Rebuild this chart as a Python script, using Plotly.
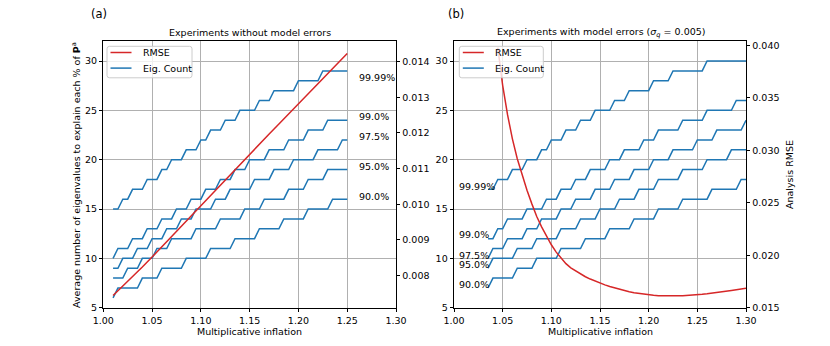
import plotly.graph_objects as go

# ---- data ----
# eigenvalue counts, panel (a): inflation grid 1.010 .. 1.250
x_eig_a = [1.010, 1.015, 1.020, 1.025, 1.030, 1.035, 1.040, 1.045, 1.050, 1.055,
           1.060, 1.065, 1.070, 1.075, 1.080, 1.085, 1.090, 1.095, 1.100, 1.105,
           1.110, 1.115, 1.120, 1.125, 1.130, 1.135, 1.140, 1.145, 1.150, 1.155,
           1.160, 1.165, 1.170, 1.175, 1.180, 1.185, 1.190, 1.195, 1.200, 1.205,
           1.210, 1.215, 1.220, 1.225, 1.230, 1.235, 1.240, 1.245, 1.250]
eig_a_9999 = [15, 15, 16, 16, 17, 17, 17, 18, 18, 18, 19, 19, 20, 20, 20, 21, 21, 21, 22, 22,
              23, 23, 23, 24, 24, 24, 25, 25, 25, 25, 26, 26, 26, 27, 27, 27, 27, 27, 28, 28,
              28, 28, 28, 29, 29, 29, 29, 29, 29]
eig_a_990 = [10, 11, 11, 11, 12, 12, 12, 13, 13, 13, 14, 14, 14, 15, 15, 15, 16, 16, 16, 17,
             17, 17, 18, 18, 18, 19, 19, 19, 20, 20, 20, 20, 21, 21, 21, 21, 22, 22, 22, 22,
             23, 23, 23, 23, 24, 24, 24, 24, 24]
eig_a_975 = [9, 9, 10, 10, 10, 11, 11, 11, 12, 12, 12, 13, 13, 13, 14, 14, 14, 15, 15, 15,
             15, 16, 16, 16, 17, 17, 17, 17, 17, 18, 18, 18, 18, 19, 19, 19, 19, 20, 20, 20,
             20, 20, 21, 21, 21, 21, 21, 22, 22]
eig_a_950 = [8, 8, 8, 9, 9, 9, 10, 10, 10, 11, 11, 11, 12, 12, 12, 12, 12, 13, 13, 13,
             13, 13, 14, 14, 14, 14, 14, 15, 15, 15, 15, 16, 16, 16, 16, 16, 17, 17, 17, 17,
             18, 18, 18, 18, 19, 19, 19, 19, 19]
eig_a_900 = [6, 7, 7, 7, 7, 7, 8, 8, 8, 8, 9, 9, 9, 9, 9, 10, 10, 10, 10, 10,
             11, 11, 11, 11, 11, 12, 12, 12, 12, 12, 13, 13, 13, 13, 13, 14, 14, 14, 14, 14,
             15, 15, 15, 15, 15, 16, 16, 16, 16]

# eigenvalue counts, panel (b): inflation grid 1.035 .. 1.300
x_eig_b = [1.035, 1.040, 1.045, 1.050, 1.055, 1.060, 1.065, 1.070, 1.075, 1.080,
           1.085, 1.090, 1.095, 1.100, 1.105, 1.110, 1.115, 1.120, 1.125, 1.130,
           1.135, 1.140, 1.145, 1.150, 1.155, 1.160, 1.165, 1.170, 1.175, 1.180,
           1.185, 1.190, 1.195, 1.200, 1.205, 1.210, 1.215, 1.220, 1.225, 1.230,
           1.235, 1.240, 1.245, 1.250, 1.255, 1.260, 1.265, 1.270, 1.275, 1.280,
           1.285, 1.290, 1.295, 1.300]
eig_b_9999 = [17, 17, 18, 18, 18, 19, 19, 19, 20, 20, 20, 21, 21, 22, 22, 22, 23, 23, 23, 24,
              24, 24, 25, 25, 25, 25, 26, 26, 26, 27, 27, 27, 27, 27, 28, 28, 28, 28, 29, 29,
              29, 29, 29, 29, 29, 30, 30, 30, 30, 30, 30, 30, 30, 30]
eig_b_990 = [12, 12, 13, 13, 14, 14, 14, 14, 15, 15, 15, 15, 16, 16, 16, 17, 17, 17, 18, 18,
             18, 19, 19, 19, 19, 20, 20, 20, 21, 21, 21, 21, 22, 22, 22, 23, 23, 23, 23, 23,
             24, 24, 24, 24, 24, 25, 25, 25, 25, 25, 25, 26, 26, 26]
eig_b_975 = [10, 11, 11, 11, 12, 12, 12, 12, 13, 13, 13, 14, 14, 14, 14, 15, 15, 15, 16, 16,
             16, 16, 17, 17, 17, 17, 18, 18, 18, 18, 19, 19, 19, 19, 20, 20, 20, 20, 21, 21,
             21, 21, 21, 22, 22, 22, 22, 23, 23, 23, 23, 23, 23, 24]
eig_b_950 = [9, 10, 10, 10, 10, 10, 11, 11, 11, 11, 12, 12, 12, 12, 12, 13, 13, 13, 13, 14,
             14, 14, 14, 15, 15, 15, 15, 16, 16, 16, 16, 17, 17, 17, 17, 18, 18, 18, 18, 18,
             19, 19, 19, 19, 19, 20, 20, 20, 20, 20, 21, 21, 21, 21]
eig_b_900 = [7, 8, 8, 8, 8, 8, 9, 9, 9, 9, 10, 10, 10, 10, 10, 11, 11, 11, 11, 11,
             12, 12, 12, 12, 12, 13, 13, 13, 13, 13, 14, 14, 14, 14, 14, 15, 15, 15, 15, 15,
             16, 16, 16, 16, 16, 16, 17, 17, 17, 17, 17, 17, 18, 18]

pct_labels = ["99.99%", "99.0%", "97.5%", "95.0%", "90.0%"]

# analysis RMSE
x_rmse_a = [1.01, 1.02, 1.03, 1.04, 1.05, 1.06, 1.07, 1.08, 1.09, 1.10, 1.11, 1.12, 1.13,
            1.14, 1.15, 1.16, 1.17, 1.18, 1.19, 1.20, 1.21, 1.22, 1.23, 1.24, 1.25]
rmse_a = [0.00744, 0.00770, 0.00797, 0.00824, 0.00852, 0.00880, 0.00909, 0.00938, 0.00967,
          0.00996, 0.01025, 0.01054, 0.01083, 0.01112, 0.01140, 0.01169, 0.01197, 0.01225,
          0.01253, 0.01281, 0.01310, 0.01338, 0.01366, 0.01395, 0.01423]
x_rmse_b = [1.045, 1.050, 1.055, 1.060, 1.065, 1.070, 1.075, 1.080, 1.085, 1.090,
            1.095, 1.100, 1.105, 1.110, 1.115, 1.120, 1.125, 1.130, 1.135, 1.140,
            1.145, 1.150, 1.155, 1.160, 1.165, 1.170, 1.175, 1.180, 1.185, 1.190,
            1.195, 1.200, 1.205, 1.210, 1.215, 1.220, 1.225, 1.230, 1.235, 1.240,
            1.245, 1.250, 1.255, 1.260, 1.265, 1.270, 1.275, 1.280, 1.285, 1.290,
            1.295, 1.300]
rmse_b = [0.0398, 0.0362, 0.0334, 0.0311, 0.0292, 0.0276, 0.0262, 0.0249, 0.0237, 0.0227,
          0.0218, 0.0210, 0.0203, 0.0197, 0.0192, 0.0188, 0.0185, 0.0182, 0.01795, 0.01773,
          0.01753, 0.01737, 0.01718, 0.01702, 0.01688, 0.01675, 0.01663, 0.01652, 0.01643, 0.01635,
          0.01628, 0.01622, 0.01618, 0.01615, 0.01613, 0.01612, 0.01612, 0.01613, 0.01615, 0.01617,
          0.01620, 0.01623, 0.01628, 0.01633, 0.01638, 0.01644, 0.01650, 0.01657, 0.01664, 0.01671,
          0.01678, 0.01685]

BLUE = "#1f77b4"
RED = "#d62728"
FONT = "DejaVu Sans"
FS = 9.5

# page body has an 8px margin, so the figure is drawn 8px in from the window corner
OFF = 8
W, H = 830 - OFF, 346 - OFF


def fx(px):
    return (px - OFF) / W


def fy(py):
    return 1 - (py - OFF) / H


fig = go.Figure()

series_a = [eig_a_9999, eig_a_990, eig_a_975, eig_a_950, eig_a_900]
series_b = [eig_b_9999, eig_b_990, eig_b_975, eig_b_950, eig_b_900]

for ys in series_a:
    fig.add_trace(go.Scatter(x=x_eig_a, y=ys, mode="lines", line=dict(color=BLUE, width=1.5),
                             name="Eig. Count", xaxis="x", yaxis="y", hoverinfo="skip"))
fig.add_trace(go.Scatter(x=x_rmse_a, y=rmse_a, mode="lines", line=dict(color=RED, width=1.5),
                         name="RMSE", xaxis="x", yaxis="y2"))

for ys in series_b:
    fig.add_trace(go.Scatter(x=x_eig_b, y=ys, mode="lines", line=dict(color=BLUE, width=1.5),
                             name="Eig. Count", xaxis="x2", yaxis="y3", hoverinfo="skip"))
fig.add_trace(go.Scatter(x=x_rmse_b, y=rmse_b, mode="lines", line=dict(color=RED, width=1.5),
                         name="RMSE", xaxis="x2", yaxis="y4"))


def note(x, y, text, size=FS, angle=0, xanchor="center", xref="paper", yref="paper"):
    return dict(x=x, y=y, xref=xref, yref=yref, text=text, showarrow=False, textangle=angle,
                xanchor=xanchor, yanchor="middle", font=dict(size=size, family=FONT, color="black"))


ann = []
shapes = []
# percentage labels
label_y_a = [28.35, 24.36, 22.4, 19.3, 16.32]
for lab, yy in zip(pct_labels, label_y_a):
    ann.append(note(1.2605, yy, lab, xanchor="left", xref="x", yref="y"))
label_y_b = [17.33, 12.37, 10.34, 9.4, 7.4]
for lab, yy in zip(pct_labels, label_y_b):
    ann.append(note(1.0033, yy, lab, xanchor="left", xref="x2", yref="y3"))

# titles and axis labels
ann += [
    note(fx(250), fy(32.5), "Experiments without model errors"),
    note(fx(601), fy(32.5), "Experiments with model errors (<i>σ<sub>q</sub></i> = 0.005)"),
    note(fx(99), fy(14), "(a)", size=11.5),
    note(fx(455.5), fy(14), "(b)", size=11.5),
    note(fx(250), fy(331.5), "Multiplicative inflation"),
    note(fx(600), fy(331.5), "Multiplicative inflation"),
    note(fx(76), fy(175), "Average number of eigenvalues to explain each % of <b>P</b><sup>a</sup>",
         angle=-90),
    note(fx(789), fy(175), "Analysis RMSE", angle=-90),
]


# legends drawn as a matplotlib-like box: rounded frame, two line samples, two labels
def legend_box(left, top, width, height):
    r = 2.5
    x0, x1, y0, y1 = left, left + width, top, top + height
    pts = (f"M {fx(x0 + r)},{fy(y0)} L {fx(x1 - r)},{fy(y0)} Q {fx(x1)},{fy(y0)} {fx(x1)},{fy(y0 + r)} "
           f"L {fx(x1)},{fy(y1 - r)} Q {fx(x1)},{fy(y1)} {fx(x1 - r)},{fy(y1)} "
           f"L {fx(x0 + r)},{fy(y1)} Q {fx(x0)},{fy(y1)} {fx(x0)},{fy(y1 - r)} "
           f"L {fx(x0)},{fy(y0 + r)} Q {fx(x0)},{fy(y0)} {fx(x0 + r)},{fy(y0)} Z")
    shapes.append(dict(type="path", path=pts, xref="paper", yref="paper", layer="above",
                       fillcolor="rgba(255,255,255,0.8)", line=dict(color="#cccccc", width=1)))
    for name, col, yy in (("RMSE", RED, top + 6.2), ("Eig. Count", BLUE, top + 21.8)):
        shapes.append(dict(type="line", xref="paper", yref="paper", layer="above",
                           x0=fx(left + 3.5), x1=fx(left + 24.5), y0=fy(yy), y1=fy(yy),
                           line=dict(color=col, width=1.5)))
        ann.append(note(fx(left + 33.5), fy(yy), name, xanchor="left"))


legend_box(107, 46.3, 85, 31.5)
legend_box(459.3, 46.3, 84, 31.5)

ydom = [fy(307.7), fy(41.3)]
axis_common = dict(showline=True, linecolor="black", linewidth=0.8, ticks="outside",
                   ticklen=3.5, tickwidth=0.8, tickcolor="black", zeroline=False,
                   automargin=False, tickfont=dict(size=FS, color="black", family=FONT))
grid = dict(showgrid=True, gridcolor="#b0b0b0", gridwidth=0.8)

fig.update_layout(
    width=W, height=H,
    margin=dict(l=0, r=0, t=0, b=0, pad=0),
    paper_bgcolor="white", plot_bgcolor="white",
    font=dict(family=FONT, size=FS, color="black"),
    showlegend=False,
    xaxis=dict(domain=[fx(103.3), fx(396)], range=[1.0, 1.3], dtick=0.05, tick0=1.0,
               tickformat=".2f", mirror=True, anchor="y", **grid, **axis_common),
    yaxis=dict(domain=ydom, range=[5, 32], dtick=5, tick0=5, anchor="x", mirror=True,
               **grid, **axis_common),
    yaxis2=dict(range=[0.00710, 0.01457], tickvals=[0.008, 0.009, 0.010, 0.011, 0.012, 0.013, 0.014],
                tickformat=".3f", overlaying="y", side="right", anchor="x", showgrid=False,
                **axis_common),
    xaxis2=dict(domain=[fx(454), fx(746)], range=[1.0, 1.3], dtick=0.05, tick0=1.0,
                tickformat=".2f", mirror=True, anchor="y3", **grid, **axis_common),
    yaxis3=dict(domain=ydom, range=[5, 32], dtick=5, tick0=5, anchor="x2", mirror=True,
                **grid, **axis_common),
    yaxis4=dict(range=[0.015, 0.0404], tickvals=[0.015, 0.020, 0.025, 0.030, 0.035, 0.040],
                tickformat=".3f", overlaying="y3", side="right", anchor="x2", showgrid=False,
                **axis_common),
    annotations=ann,
    shapes=shapes,
)

fig.write_html("out.html")
